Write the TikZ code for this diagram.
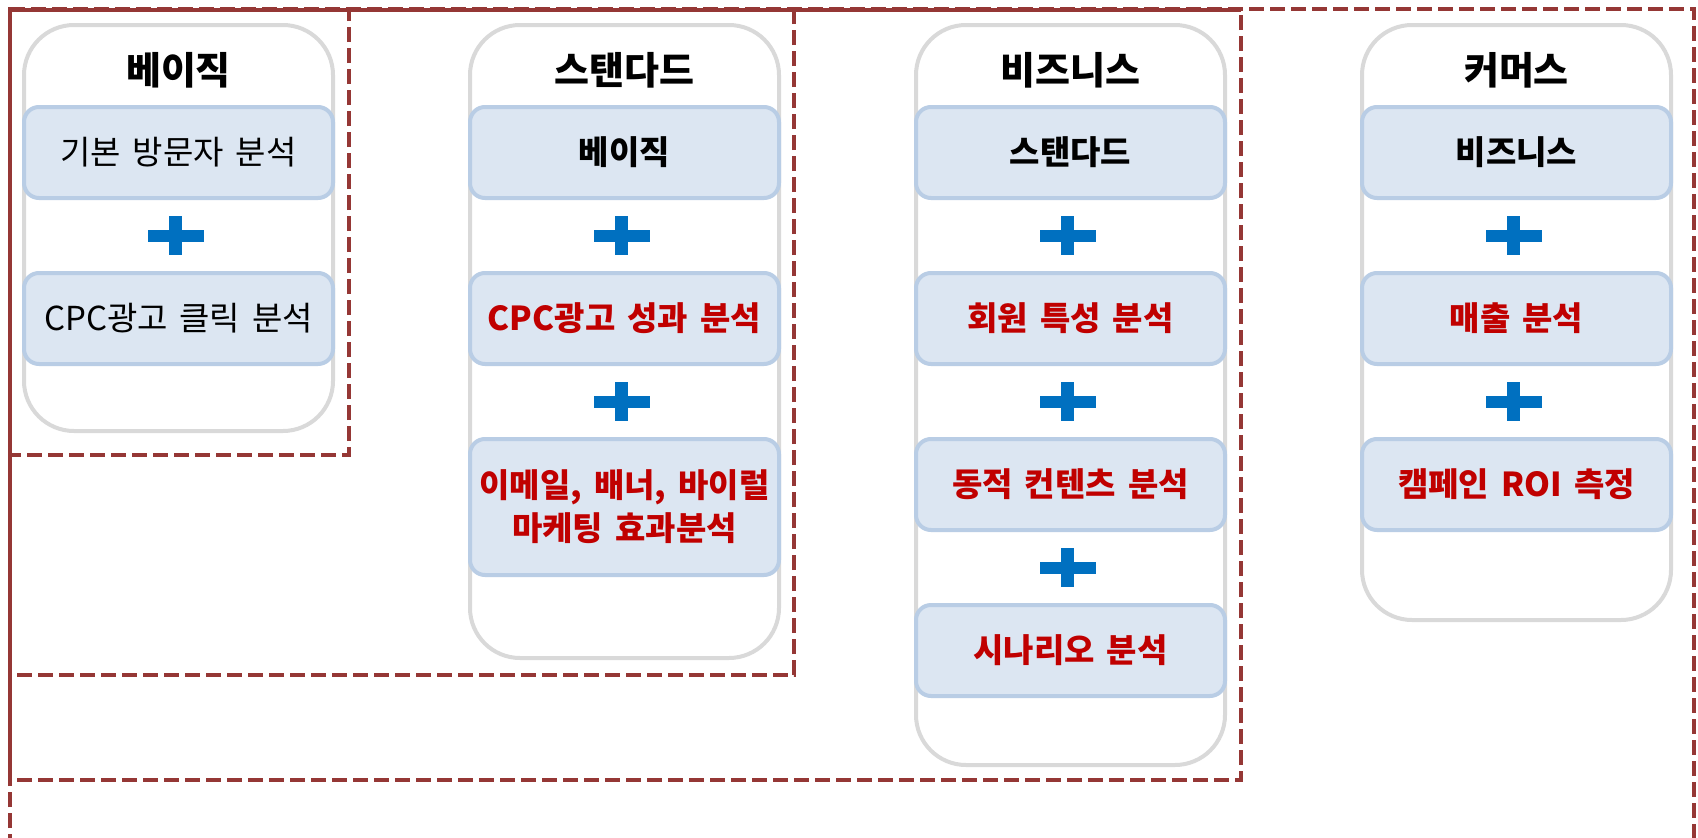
\documentclass[tikz,border=0pt]{standalone}
\usepackage{fontspec}
\setmainfont{Noto Sans CJK KR}[WordSpace=1.6]
\definecolor{dred}{RGB}{149,55,53}
\definecolor{colgray}{RGB}{217,217,217}
\definecolor{boxfill}{RGB}{220,230,242}
\definecolor{boxline}{RGB}{185,205,229}
\definecolor{plusblue}{RGB}{0,112,192}
\definecolor{txtred}{RGB}{192,0,0}
\tikzset{
  colbox/.style={draw=colgray, line width=4pt, rounded corners=50pt, fill=white, minimum width=309pt, inner sep=0pt},
  title/.style={font=\fontsize{38}{45}\selectfont\bfseries, text=black, inner sep=0pt},
  itembox/.style={draw=boxline, fill=boxfill, line width=4pt, rounded corners=15pt, minimum width=309pt, minimum height=91pt, inner sep=0pt, align=center, font=\fontsize{33}{43}\selectfont},
  plain/.style={itembox, text=black},
  basebox/.style={itembox, text=black, font=\fontsize{33}{43}\selectfont\bfseries},
  newbox/.style={itembox, text=txtred, font=\fontsize{33}{43}\selectfont\bfseries},
  hbar/.style={fill=plusblue, inner sep=0pt, minimum width=56pt, minimum height=12pt},
  vbar/.style={fill=plusblue, inner sep=0pt, minimum width=13pt, minimum height=39pt},
  tier/.style={draw=dred, line width=4pt, dash pattern=on 15pt off 6pt},
  tiersolid/.style={draw=dred, line width=4pt}
}
\newcommand\plusmark[3]{\node[vbar] (#1v) at (#2,#3) {};\node[hbar] (#1h) at (#2,#3) {};}
\begin{document}
\begin{tikzpicture}[x=1pt,y=-1pt]
\useasboundingbox (0,0) rectangle (1698,838);
\clip (0,0) rectangle (1698,838);
% columns
\node[colbox, minimum height=406pt] (c1) at (178.5,228) {};
\node[colbox, minimum height=633pt] (c2) at (624.5,341.5) {};
\node[colbox, minimum height=740pt] (c3) at (1070.5,395) {};
\node[colbox, minimum height=595pt] (c4) at (1516.5,322.5) {};
% titles
\node[title] (t1) at (178.5,70) {베이직};
\node[title] (t2) at (624.5,70) {스탠다드};
\node[title] (t3) at (1070.5,70) {비즈니스};
\node[title] (t4) at (1516.5,70) {커머스};
% column 1
\node[plain] (b11) at (178.5,152.5) {기본 방문자 분석};
\plusmark{p11}{175.5}{235.5}
\node[plain] (b12) at (178.5,318.5) {CPC광고 클릭 분석};
% column 2
\node[basebox] (b21) at (624.5,152.5) {베이직};
\plusmark{p21}{621.5}{235.5}
\node[newbox] (b22) at (624.5,318.5) {CPC광고 성과 분석};
\plusmark{p22}{621.5}{401.5}
\node[newbox, minimum height=136pt] (b23) at (624.5,507) {이메일, 배너, 바이럴\\마케팅 효과분석};
% column 3
\node[basebox] (b31) at (1070.5,152.5) {스탠다드};
\plusmark{p31}{1067.5}{235.5}
\node[newbox] (b32) at (1070.5,318.5) {회원 특성 분석};
\plusmark{p32}{1067.5}{401.5}
\node[newbox] (b33) at (1070.5,484.5) {동적 컨텐츠 분석};
\plusmark{p33}{1067.5}{567.5}
\node[newbox] (b34) at (1070.5,650.5) {시나리오 분석};
% column 4
\node[basebox] (b41) at (1516.5,152.5) {비즈니스};
\plusmark{p41}{1513.5}{235.5}
\node[newbox] (b42) at (1516.5,318.5) {매출 분석};
\plusmark{p42}{1513.5}{401.5}
\node[newbox] (b43) at (1516.5,484.5) {캠페인 ROI 측정};
% tiers (dashed frames)
\draw[tier] (10,870) -- (10,9) -- (1694,9) -- (1694,870);
\draw[tier] (10,10) rectangle (1241,780);
\draw[tier] (10,10) rectangle (794,675);
\draw[tier] (10,10) rectangle (349,455);
% overlapping shared edges read as solid
\draw[tiersolid] (10,780) -- (10,9.5) -- (1241,9.5);
\end{tikzpicture}
\end{document}
